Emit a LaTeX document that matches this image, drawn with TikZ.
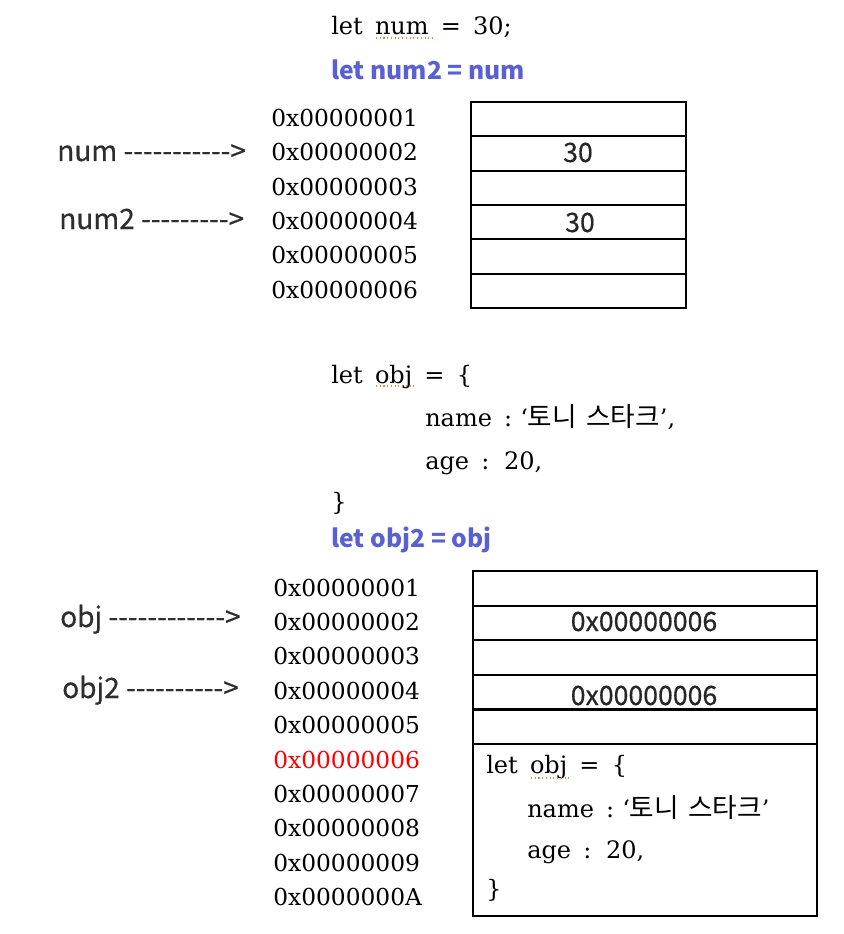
\documentclass[tikz,border=0pt]{standalone}
\usepackage{fontspec}
\newfontfamily\addr{DejaVu Serif}
\newfontfamily\codef[WordSpace=1.6]{DejaVu Serif}
\newfontfamily\kr{Noto Sans CJK KR}
\newfontfamily\krb[FakeBold=0.5]{Noto Sans CJK KR}
\definecolor{codeblue}{RGB}{88,96,210}
\definecolor{squig}{RGB}{230,140,40}
\newcommand{\hangul}[1]{{\kr\fontsize{20}{24}\selectfont #1}}
\begin{document}
\begin{tikzpicture}[x=0.75pt,y=-0.75pt,
  adr/.style={anchor=base west, inner sep=0, font=\addr\fontsize{17.5}{20}\selectfont},
  lbl/.style={anchor=base west, inner sep=0, font=\krb\fontsize{21}{25}\selectfont, text=black!82},
  blu/.style={anchor=base west, inner sep=0, font=\kr\bfseries\fontsize{18.5}{22}\selectfont, text=codeblue},
  code/.style={anchor=base west, inner sep=0, font=\codef\fontsize{18}{21}\selectfont},
  cellval/.style={anchor=base, inner sep=0, font=\krb\fontsize{20}{24}\selectfont, text=black!85},
  cell/.style={draw, line width=1.6pt, anchor=north west, inner sep=0},
  squiggle/.style={squig, line width=0.8pt, dotted}]
\useasboundingbox (0,0) rectangle (843,934);

% ---------- top code ----------
\node[code] (c1) at (331,35) {let num = 30;};
\node[blu] (c2) at (331,80) {let num2 = num};

% ---------- top memory ----------
\foreach \i in {0,...,5}{
  \node[cell, minimum width=161.25pt, minimum height=25.75pt] (t\i) at (470,{101+34.33*\i}) {};
}
\node[cellval] (v1) at (578,162) {30};
\node[cellval] (v2) at (580,232) {30};

\foreach \i/\t in {0/1,1/2,2/3,3/4,4/5,5/6}{
  \node[adr] (ta\i) at (271,{126.5+34.33*\i}) {0x0000000\t};
}
\node[lbl] (l1) at (57,161) {num -----------{}>};
\node[lbl] (l2) at (59,229) {num2 ---------{}>};

% ---------- obj code ----------
\node[code] (o1) at (331,383) {let obj = \{};
\node[code] (o2) at (425,426) {name :\hspace{6pt}‘\hangul{토니\hspace{0.35em}스타크}’,};
\node[code] (o3) at (425,469) {age : 20,};
\node[code] (o4) at (331,510) {\}};
\node[blu] (o5) at (331,547) {let obj2 = obj};

% ---------- bottom memory ----------
\foreach \i in {0,...,4}{
  \node[cell, minimum width=258pt, minimum height=25.95pt] (b\i) at (472,{570+34.6*\i}) {};
}
\node[cell, minimum width=258pt, minimum height=129pt] (b5) at (472,743) {};
\node[cellval] (w1) at (644,631) {0x00000006};
\node[cellval] (w2) at (644,705) {0x00000006};
\node[code] (in1) at (486,773) {let obj = \{};
\node[code] (in2) at (527,817) {name :\hspace{6pt}‘\hangul{토니\hspace{0.35em}스타크}’};
\node[code] (in3) at (527,858) {age : 20,};
\node[code] (in4) at (486,897) {\}};

\foreach \i/\t in {0/1,1/2,2/3,3/4,4/5,6/7,7/8,8/9,9/A}{
  \node[adr] (ba\i) at (273,{596+34.4*\i}) {0x0000000\t};
}
\node[adr, text=red] (ba5) at (273,{596+34.4*5}) {0x00000006};
\node[lbl] (l3) at (60,627) {obj ------------{}>};
\node[lbl] (l4) at (62,698) {obj2 ----------{}>};

% spell-check squiggles
\draw[squiggle] (376,38) -- (434,38);
\draw[squiggle] (376,386) -- (415,386);
\draw[squiggle] (531,778) -- (571,778);
\end{tikzpicture}
\end{document}
